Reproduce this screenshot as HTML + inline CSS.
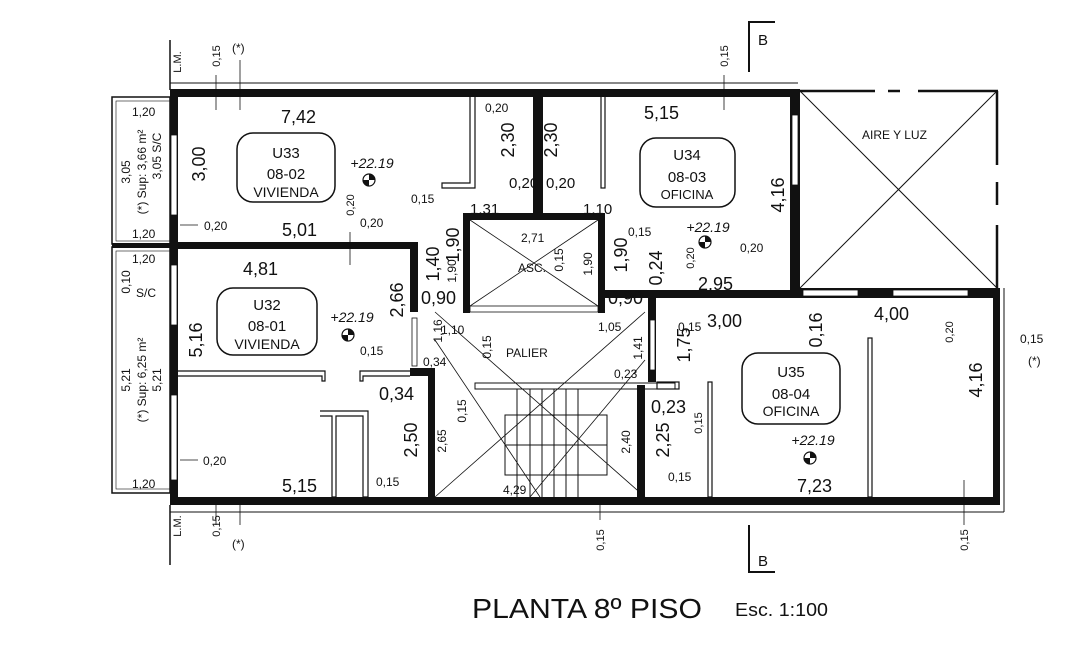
<!DOCTYPE html>
<html><head><meta charset="utf-8"><style>
html,body{margin:0;padding:0;background:#fff;}
svg{display:block;}
text{font-family:"Liberation Sans",sans-serif;fill:#111;}
</style></head><body>
<svg width="1092" height="670" viewBox="0 0 1092 670" xmlns="http://www.w3.org/2000/svg">
<g stroke="#111" fill="none">
<line x1="170" y1="40" x2="170" y2="90" stroke-width="1.5"/>
<line x1="170" y1="505" x2="170" y2="565" stroke-width="1.5"/>
<line x1="170" y1="83" x2="798" y2="83" stroke-width="1"/>
<line x1="170" y1="512" x2="1004" y2="512" stroke-width="1"/>
<line x1="1004" y1="288" x2="1004" y2="512" stroke-width="1"/>
<rect x="112" y="97" width="58" height="147" stroke-width="1.5"/>
<rect x="116" y="101" width="54" height="140" stroke-width="0.6"/>
<rect x="112" y="247" width="58" height="246" stroke-width="1.5"/>
<rect x="116" y="251" width="54" height="238" stroke-width="0.6"/>
</g>
<g fill="#111">
<rect x="170" y="89" width="630" height="8"/>
<rect x="170" y="89" width="8" height="416"/>
<rect x="170" y="497" width="830" height="8"/>
<rect x="993" y="288" width="7" height="217"/>
<rect x="112" y="243" width="66" height="5"/>
<rect x="178" y="242" width="240" height="7"/>
<rect x="410" y="242" width="8" height="70"/>
<rect x="463" y="213" width="142" height="7"/>
<rect x="463" y="213" width="7" height="100"/>
<rect x="598" y="213" width="7" height="100"/>
<rect x="533" y="96" width="10" height="122"/>
<rect x="790" y="96" width="10" height="200"/>
<rect x="605" y="290" width="195" height="8"/>
<rect x="648" y="290" width="8" height="92"/>
<rect x="800" y="288" width="200" height="10"/>
<rect x="428" y="372" width="7" height="127"/>
<rect x="637" y="385" width="8" height="114"/>
<rect x="410" y="368" width="25" height="8"/>
</g>
<g fill="#fff" stroke="#111" stroke-width="0.8">
<rect x="171" y="135" width="6" height="80"/>
<rect x="171" y="265" width="6" height="60"/>
<rect x="171" y="395" width="6" height="85"/>
<rect x="792" y="115" width="6" height="70"/>
<rect x="803" y="290" width="55" height="6"/>
<rect x="893" y="290" width="75" height="6"/>
<rect x="412" y="318" width="5" height="48"/>
<rect x="650" y="320" width="5" height="50"/>
<rect x="470" y="306" width="128" height="6"/>
</g>
<g stroke="#111" fill="none" stroke-width="1.2">
<polyline points="470,96 470,183 442,183 442,188 475,188 475,96"/>
<rect x="601" y="96" width="4" height="92"/>
<polyline points="178,371 325,371 325,381 322,381 322,376 178,376"/>
<polyline points="410,371 360,371 360,381 363,381 363,376 410,376"/>
<polyline points="320,411 368,411 368,497 363,497 363,416 336,416 336,497 332,497 332,416 320,416 z"/>
<rect x="868" y="338" width="4" height="159"/>
<rect x="708" y="382" width="4" height="115"/>
<rect x="657" y="382" width="22" height="7"/>
<line x1="800" y1="91" x2="875" y2="91" stroke-width="2.5"/>
<line x1="888" y1="91" x2="900" y2="91" stroke-width="2.5"/>
<line x1="918" y1="91" x2="998" y2="91" stroke-width="2.5"/>
<line x1="997" y1="91" x2="997" y2="165" stroke-width="2.5"/>
<line x1="997" y1="182" x2="997" y2="205" stroke-width="2.5"/>
<line x1="997" y1="225" x2="997" y2="288" stroke-width="2.5"/>
<line x1="800" y1="91" x2="997" y2="288" stroke-width="1"/>
<line x1="997" y1="91" x2="800" y2="288" stroke-width="1"/>
<g stroke-width="0.8">
<line x1="470" y1="220" x2="598" y2="306"/>
<line x1="598" y1="220" x2="470" y2="306"/>
<line x1="435" y1="312" x2="645" y2="497"/>
<line x1="645" y1="312" x2="435" y2="497"/>
<line x1="435" y1="340" x2="540" y2="497"/>
<line x1="645" y1="360" x2="530" y2="497"/>
</g>
<rect x="475" y="383" width="200" height="6" stroke-width="1"/>
<g stroke-width="1">
<line x1="517" y1="389" x2="517" y2="497"/>
<line x1="530" y1="389" x2="530" y2="497"/>
<line x1="542" y1="389" x2="542" y2="497"/>
<line x1="554" y1="389" x2="554" y2="497"/>
<line x1="566" y1="389" x2="566" y2="497"/>
<line x1="578" y1="389" x2="578" y2="497"/>
<rect x="505" y="415" width="102" height="60"/>
<line x1="505" y1="445" x2="607" y2="445"/>
</g>
<rect x="237" y="133" width="98" height="69" rx="16" stroke-width="1.5"/>
<rect x="217" y="288" width="100" height="67" rx="16" stroke-width="1.5"/>
<rect x="640" y="138" width="95" height="69" rx="16" stroke-width="1.5"/>
<rect x="742" y="353" width="98" height="71" rx="16" stroke-width="1.5"/>
<polyline points="775,22 749,22 749,72" stroke-width="2"/>
<polyline points="749,525 749,572 775,572" stroke-width="2"/>
<g stroke-width="0.8">
<line x1="216" y1="75" x2="216" y2="110"/><line x1="240" y1="60" x2="240" y2="110"/>
<line x1="216" y1="505" x2="216" y2="525"/><line x1="240" y1="505" x2="240" y2="525"/>
<line x1="724" y1="75" x2="724" y2="110"/>
<line x1="600" y1="505" x2="600" y2="520"/>
<line x1="964" y1="480" x2="964" y2="525"/>
<line x1="350" y1="232" x2="350" y2="265"/>
<line x1="180" y1="225" x2="198" y2="225"/>
<line x1="180" y1="460" x2="198" y2="460"/>
</g>
</g>
<g fill="none" stroke="#111" stroke-width="1.2">
<circle cx="369" cy="180" r="6"/><circle cx="348" cy="335" r="6"/>
<circle cx="705" cy="242" r="6"/><circle cx="810" cy="458" r="6"/>
</g>
<g fill="#111">
<path d="M369,180 L369,174 A6,6 0 0 1 375,180Z M369,180 L369,186 A6,6 0 0 1 363,180Z"/>
<path d="M348,335 L348,329 A6,6 0 0 1 354,335Z M348,335 L348,341 A6,6 0 0 1 342,335Z"/>
<path d="M705,242 L705,236 A6,6 0 0 1 711,242Z M705,242 L705,248 A6,6 0 0 1 699,242Z"/>
<path d="M810,458 L810,452 A6,6 0 0 1 816,458Z M810,458 L810,464 A6,6 0 0 1 804,458Z"/>
</g>
<g font-size="18">
<text x="281" y="123">7,42</text>
<text x="282" y="236">5,01</text>
<text x="243" y="275">4,81</text>
<text x="282" y="492">5,15</text>
<text x="644" y="119">5,15</text>
<text x="698" y="290">2,95</text>
<text x="707" y="327">3,00</text>
<text x="874" y="320">4,00</text>
<text x="797" y="492">7,23</text>
<text x="421" y="304">0,90</text>
<text x="608" y="304">0,90</text>
<text x="379" y="400">0,34</text>
<text x="651" y="413">0,23</text>
</g>
<g font-size="18" text-anchor="middle">
<text transform="translate(205,164) rotate(-90)">3,00</text>
<text transform="translate(202,340) rotate(-90)">5,16</text>
<text transform="translate(403,300) rotate(-90)">2,66</text>
<text transform="translate(417,440) rotate(-90)">2,50</text>
<text transform="translate(514,140) rotate(-90)">2,30</text>
<text transform="translate(557,140) rotate(-90)">2,30</text>
<text transform="translate(439,264) rotate(-90)">1,40</text>
<text transform="translate(459,245) rotate(-90)">1,90</text>
<text transform="translate(627,255) rotate(-90)">1,90</text>
<text transform="translate(662,268) rotate(-90)">0,24</text>
<text transform="translate(784,195) rotate(-90)">4,16</text>
<text transform="translate(690,345) rotate(-90)">1,75</text>
<text transform="translate(669,440) rotate(-90)">2,25</text>
<text transform="translate(822,330) rotate(-90)">0,16</text>
<text transform="translate(982,380) rotate(-90)">4,16</text>
</g>
<g font-size="15" text-anchor="middle">
<text x="286" y="158">U33</text><text x="286" y="179">08-02</text><text x="286" y="197" font-size="14">VIVIENDA</text>
<text x="267" y="310">U32</text><text x="267" y="331">08-01</text><text x="267" y="349" font-size="14">VIVIENDA</text>
<text x="687" y="160">U34</text><text x="687" y="182">08-03</text><text x="687" y="199" font-size="13">OFICINA</text>
<text x="791" y="377">U35</text><text x="791" y="399">08-04</text><text x="791" y="416" font-size="14">OFICINA</text>
</g>
<g font-size="14" font-style="italic" text-anchor="middle">
<text x="372" y="168">+22.19</text>
<text x="352" y="322">+22.19</text>
<text x="708" y="232">+22.19</text>
<text x="813" y="445">+22.19</text>
</g>
<g font-size="12">
<text x="204" y="230">0,20</text>
<text x="360" y="227">0,20</text>
<text x="411" y="203">0,15</text>
<text x="485" y="112">0,20</text>
<text x="470" y="214" font-size="15">1,31</text>
<text x="509" y="188" font-size="15">0,20</text>
<text x="546" y="188" font-size="15">0,20</text>
<text x="583" y="214" font-size="15">1,10</text>
<text x="521" y="242">2,71</text>
<text x="518" y="272">ASC.</text>
<text x="628" y="236">0,15</text>
<text x="740" y="252">0,20</text>
<text x="678" y="331">0,15</text>
<text x="441" y="334">1,10</text>
<text x="598" y="331">1,05</text>
<text x="423" y="366">0,34</text>
<text x="506" y="357">PALIER</text>
<text x="614" y="378">0,23</text>
<text x="360" y="355">0,15</text>
<text x="376" y="486">0,15</text>
<text x="503" y="494">4,29</text>
<text x="668" y="481">0,15</text>
<text x="203" y="465">0,20</text>
<text x="1020" y="343">0,15</text>
<text x="1028" y="365">(*)</text>
<text x="862" y="139">AIRE Y LUZ</text>
<text x="132" y="116">1,20</text>
<text x="132" y="238">1,20</text>
<text x="132" y="263">1,20</text>
<text x="132" y="488">1,20</text>
<text x="136" y="297">S/C</text>
<text x="232" y="52">(*)</text>
<text x="232" y="548">(*)</text>
</g>
<g font-size="11" text-anchor="middle">
<text transform="translate(181,62) rotate(-90)">L.M.</text>
<text transform="translate(181,526) rotate(-90)">L.M.</text>
<text transform="translate(220,56) rotate(-90)">0,15</text>
<text transform="translate(220,526) rotate(-90)">0,15</text>
<text transform="translate(728,56) rotate(-90)">0,15</text>
<text transform="translate(604,540) rotate(-90)">0,15</text>
<text transform="translate(968,540) rotate(-90)">0,15</text>
<text transform="translate(354,205) rotate(-90)">0,20</text>
<text transform="translate(694,258) rotate(-90)">0,20</text>
<text transform="translate(953,332) rotate(-90)">0,20</text>
<text transform="translate(702,423) rotate(-90)">0,15</text>
<text transform="translate(456,271) rotate(-90)" font-size="12">1,90</text>
<text transform="translate(592,264) rotate(-90)" font-size="12">1,90</text>
<text transform="translate(563,260) rotate(-90)" font-size="12">0,15</text>
<text transform="translate(442,331) rotate(-90)" font-size="12">1,16</text>
<text transform="translate(491,347) rotate(-90)" font-size="12">0,15</text>
<text transform="translate(642,348) rotate(-90)" font-size="12">1,41</text>
<text transform="translate(466,411) rotate(-90)" font-size="12">0,15</text>
<text transform="translate(446,441) rotate(-90)" font-size="12">2,65</text>
<text transform="translate(630,442) rotate(-90)" font-size="12">2,40</text>
<text transform="translate(130,172) rotate(-90)" font-size="12">3,05</text>
<text transform="translate(146,172) rotate(-90)" font-size="12">(*) Sup: 3,66 m²</text>
<text transform="translate(161,156) rotate(-90)" font-size="12">3,05  S/C</text>
<text transform="translate(130,282) rotate(-90)" font-size="12">0,10</text>
<text transform="translate(130,380) rotate(-90)" font-size="12">5,21</text>
<text transform="translate(146,380) rotate(-90)" font-size="12">(*) Sup: 6,25 m²</text>
<text transform="translate(161,380) rotate(-90)" font-size="12">5,21</text>
</g>
<text x="758" y="45" font-size="15">B</text>
<text x="758" y="566" font-size="15">B</text>
<text x="472" y="618" font-size="28" textLength="230" lengthAdjust="spacingAndGlyphs">PLANTA 8º PISO</text>
<text x="735" y="616" font-size="18" textLength="93" lengthAdjust="spacingAndGlyphs">Esc. 1:100</text>
</svg>
</body></html>
